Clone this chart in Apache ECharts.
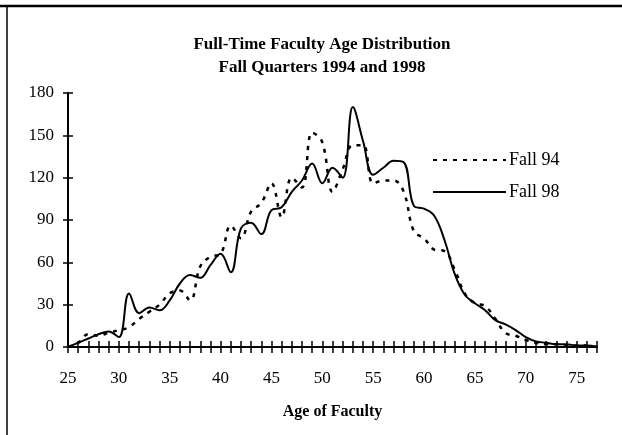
<!DOCTYPE html>
<html>
<head>
<meta charset="utf-8">
<script src="https://cdn.jsdelivr.net/npm/echarts@6/dist/echarts.min.js"></script>
<style>
  html, body { margin: 0; padding: 0; background: #fff; }
  #chart { width: 622px; height: 435px; }
</style>
</head>
<body>
<div id="chart"></div>
<script>
// ages 25..77, one value per year
const ages = [];
for (let a = 25; a <= 77; a++) ages.push(a);

const fall94 = [0, 3, 9, 8, 10, 12, 14, 20, 25, 30, 38, 40, 33, 57, 64, 66, 86, 77, 96, 102,
  116, 92, 120, 113, 152, 145, 110, 126, 143, 143, 116, 118, 118, 110, 82, 77, 69, 68, 55, 38,
  31, 29, 20, 10, 8, 5, 3, 2, 2, 1, 1, 1, 0];
const fall98 = [0, 3, 6, 9, 11, 7, 38, 24, 28, 26, 33, 45, 51, 49, 58, 66, 53, 84, 88, 80,
  97, 99, 110, 118, 130, 116, 127, 120, 170, 146, 122, 127, 132, 131, 100, 98, 93, 76, 52, 37,
  31, 26, 19, 16, 12, 7, 4, 3, 2, 2, 1, 1, 0];

const xLabels = [25, 30, 35, 40, 45, 50, 55, 60, 65, 70, 75];
const yTicks = [0, 30, 60, 90, 120, 150, 180];

const serif = '"Liberation Serif", "DejaVu Serif", serif';

const chart = echarts.init(document.getElementById('chart'));

const baseX = {
  type: 'value', min: 25, max: 77, interval: 1, position: 'bottom',
  splitLine: { show: false }
};
const baseY = {
  type: 'value', min: 0, max: 180, interval: 30, position: 'left',
  splitLine: { show: false }
};

chart.setOption({
  animation: false,
  backgroundColor: '#fff',
  grid: { left: 68, right: 25, top: 93, bottom: 88 },
  xAxis: [
    Object.assign({}, baseX, {
      axisLine: { lineStyle: { color: '#000', width: 2 } },
      axisTick: { inside: false, length: 6, lineStyle: { color: '#000', width: 1.5 } },
      axisLabel: {
        margin: 23, color: '#000', fontFamily: serif, fontSize: 17,
        formatter: v => (xLabels.includes(v) ? String(v) : '')
      },
      name: 'Age of Faculty', nameLocation: 'middle', nameGap: 57,
      nameTextStyle: { color: '#000', fontFamily: serif, fontSize: 16, fontWeight: 'bold' }
    }),
    Object.assign({}, baseX, {
      axisLine: { show: false },
      axisTick: { inside: true, length: 6, lineStyle: { color: '#000', width: 1.5 } },
      axisLabel: { show: false }
    })
  ],
  yAxis: [
    Object.assign({}, baseY, {
      axisLine: { show: true, lineStyle: { color: '#000', width: 2 } },
      axisTick: { show: true, inside: false, length: 5, lineStyle: { color: '#000', width: 1.5 } },
      axisLabel: {
        margin: 14, color: '#000', fontFamily: serif, fontSize: 17,
        formatter: v => (yTicks.includes(v) ? String(v) : '')
      }
    }),
    Object.assign({}, baseY, {
      axisLine: { show: false },
      axisTick: { show: true, inside: true, length: 5, lineStyle: { color: '#000', width: 1.5 } },
      axisLabel: { show: false }
    })
  ],
  legend: {
    orient: 'vertical', left: 427, top: 146,
    itemWidth: 73, itemHeight: 14, itemGap: 14,
    itemStyle: { opacity: 0 },
    textStyle: { color: '#000', fontFamily: serif, fontSize: 18, padding: [0, 0, 0, -2] },
    data: ['Fall 94', 'Fall 98']
  },
  graphic: [
    {
      type: 'text',
      style: {
        text: 'Full-Time Faculty Age Distribution',
        x: 322, y: 45, textAlign: 'center', textVerticalAlign: 'middle',
        font: 'bold 17px ' + serif, fill: '#000'
      }
    },
    {
      type: 'text',
      style: {
        text: 'Fall Quarters 1994 and 1998',
        x: 322, y: 68, textAlign: 'center', textVerticalAlign: 'middle',
        font: 'bold 17px ' + serif, fill: '#000'
      }
    },
    { type: 'line', shape: { x1: 0, y1: 6, x2: 622, y2: 6 }, style: { stroke: '#000', lineWidth: 2.5 } },
    { type: 'line', shape: { x1: 7, y1: 6, x2: 7, y2: 435 }, style: { stroke: '#000', lineWidth: 1.5 } }
  ],
  series: [
    {
      name: 'Fall 94', type: 'line', smooth: 0.4, showSymbol: false, symbol: 'none',
      data: ages.map((a, i) => [a, fall94[i]]),
      lineStyle: { color: '#000', width: 2.5, type: [4, 6] },
      itemStyle: { color: '#000' }
    },
    {
      name: 'Fall 98', type: 'line', smooth: 0.4, showSymbol: false, symbol: 'none',
      data: ages.map((a, i) => [a, fall98[i]]),
      lineStyle: { color: '#000', width: 2, type: 'solid' },
      itemStyle: { color: '#000' }
    }
  ]
});
</script>
</body>
</html>
